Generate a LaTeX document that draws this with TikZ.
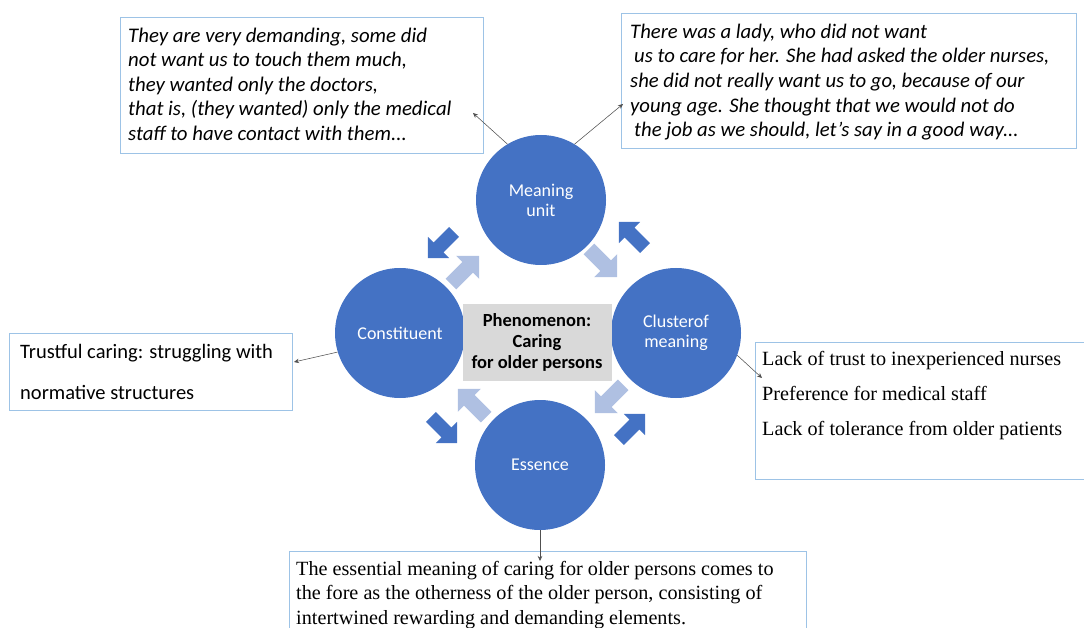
\documentclass[tikz,border=0pt]{standalone}
\usepackage{fontspec}
\setmainfont{Carlito}
\newfontfamily\tnr{Liberation Serif}
\usetikzlibrary{arrows.meta}
\definecolor{cblue}{HTML}{4472C4}
\definecolor{clight}{HTML}{AFC0E2}
\definecolor{cborder}{HTML}{9DC3E6}
\definecolor{cgray}{HTML}{D9D9D9}
\definecolor{cline}{HTML}{505050}
\newcommand{\blockarrow}[5]{\fill[#4, shift={(#1,#2)}, rotate=#3, scale=#5] (-18.5,-7) -- (3.5,-7) -- (3.5,-15) -- (18.5,0) -- (3.5,15) -- (3.5,7) -- (-18.5,7) -- cycle;}
\tikzset{
  bubble/.style={circle, fill=cblue, minimum size=130pt, inner sep=0pt, text=white, font=\fontsize{18}{20}\selectfont, align=center},
  qbox/.style={draw=cborder, line width=0.9pt, anchor=north west, inner sep=0pt},
  conn/.style={draw=cline, line width=0.55pt, -{Stealth[length=5pt,width=4.5pt]}},
  qtext/.style={anchor=north west, inner sep=0pt, align=left},
}
\begin{document}
\begin{tikzpicture}[x=1pt,y=-1pt]
\useasboundingbox (0,0) rectangle (1084,628);
% circles
\node[bubble] (mu) at (541,200) {Meaning\\unit};
\node[bubble] (co) at (400,333) {Constituent};
\node[bubble] (cm) at (676,333) {Clusterof\\meaning};
\node[bubble] (es) at (540,465) {Essence};
% center box
\node[fill=cgray, minimum width=149pt, minimum height=77pt, inner sep=0pt, align=center, font=\bfseries\fontsize{18.5}{21}\selectfont] (ph) at (537,342.5) {Phenomenon:\\Caring\\for older persons};
% block arrows
\blockarrow{441}{245}{225}{cblue}{1}
\blockarrow{465}{270}{45}{clight}{1.08}
\blockarrow{632}{235}{135}{cblue}{1}
\blockarrow{603}{263}{-45}{clight}{1.08}
\blockarrow{472}{403}{135}{clight}{1.08}
\blockarrow{444}{430}{-45}{cblue}{1}
\blockarrow{609}{399}{225}{clight}{1.08}
\blockarrow{632}{427}{45}{cblue}{1}
% quote boxes
\node[qbox, minimum width=363pt, minimum height=136pt] (q1) at (120,17) {};
\node[qtext, font=\itshape\fontsize{20.8}{24.5}\selectfont] at (128,27.5) {They are very demanding, some did\\not want us to touch them much,\\they wanted only the doctors,\\that is, (they wanted) only the medical\\staff to have contact with them...};
\node[qbox, minimum width=455pt, minimum height=135pt] (q2) at (621,13) {};
\node[qtext, font=\itshape\fontsize{20.7}{24.7}\selectfont] at (630,23.5) {There was a lady, who did not want\\\hspace*{4pt}us to care for her. She had asked the older nurses,\\she did not really want us to go, because of our\\young age. She thought that we would not do\\\hspace*{4pt}the job as we should, let’s say in a good way...};
\node[qbox, minimum width=283pt, minimum height=77pt] (q3) at (9,333) {};
\node[qtext, font=\fontsize{20.5}{41}\selectfont] at (20,344.3) {Trustful caring: struggling with\\normative structures};
\node[qbox, minimum width=330pt, minimum height=137pt] (q4) at (755,342) {};
\node[qtext, font=\tnr\fontsize{20.2}{35}\selectfont] at (762,351) {Lack of trust to inexperienced nurses\\Preference for medical staff\\Lack of tolerance from older patients};
\node[qbox, minimum width=517pt, minimum height=95pt] (q5) at (289,551) {};
\node[qtext, font=\tnr\fontsize{20.2}{24.5}\selectfont] at (296,561) {The essential meaning of caring for older persons comes to\\the fore as the otherness of the older person, consisting of\\intertwined rewarding and demanding elements.};
% connectors
\coordinate (e1) at (473,113);
\coordinate (e2) at (623,104);
\coordinate (e3) at (294,362);
\coordinate (e4) at (762,378);
\coordinate (e5) at (540,561);
\draw[conn] (mu.121) -- (e1);
\draw[conn] (mu.59) -- (e2);
\draw[conn] (co.197) -- (e3);
\draw[conn] (cm.-20) -- (e4);
\draw[conn] (es.south) -- (e5);
\end{tikzpicture}
\end{document}
